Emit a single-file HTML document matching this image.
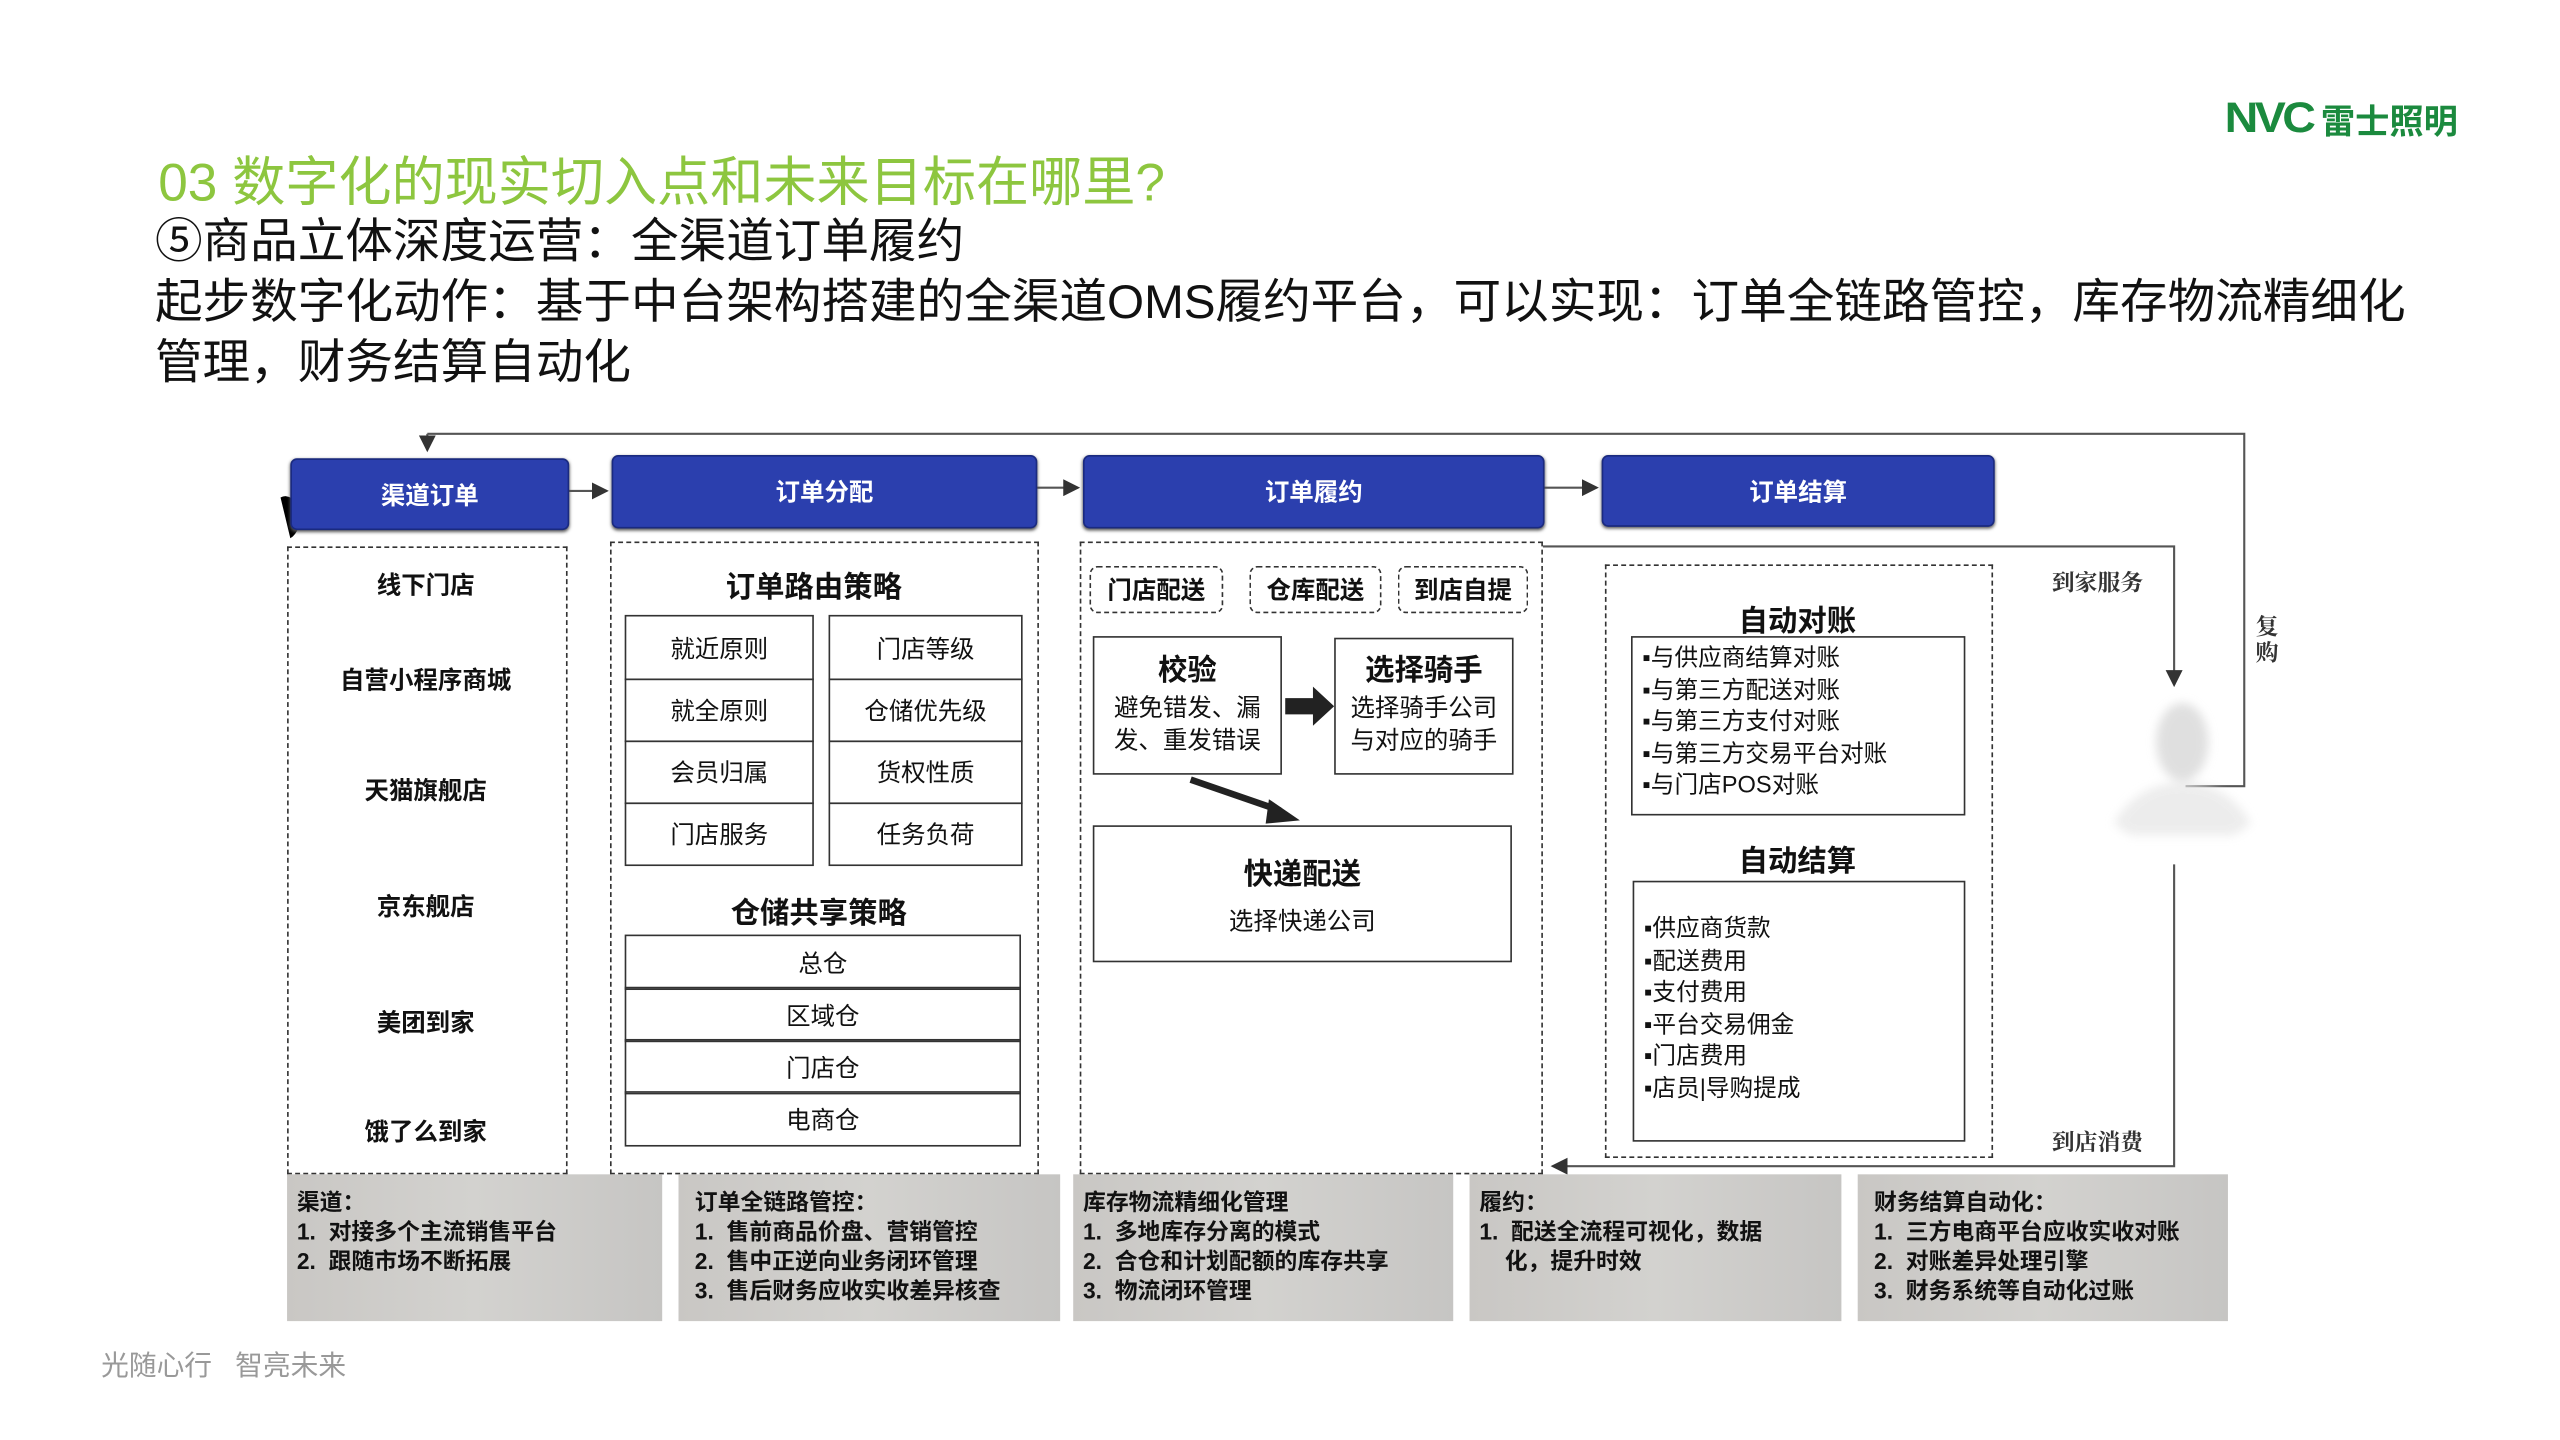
<!DOCTYPE html>
<html><head><meta charset="utf-8"><style>
html,body{margin:0;padding:0;background:#fff;width:2560px;height:1440px;overflow:hidden}
#s{position:absolute;left:0;top:0;width:1570px;height:883px;transform:scale(1.631);transform-origin:0 0;font-family:"Liberation Sans","Noto Sans CJK SC",sans-serif;color:#111}
.a{position:absolute}
.hd{position:absolute;background:#2b3fae;border:1px solid #1a2a80;border-radius:4px;color:#fff;font-weight:bold;font-size:15px;display:flex;align-items:center;justify-content:center;box-shadow:0 1px 2px #555}
.dash{position:absolute;border:1.5px dashed #333}
.box{position:absolute;border:1.5px solid #333;display:flex;align-items:center;justify-content:center;font-size:15px;box-sizing:border-box}
.c{position:absolute;text-align:center;font-weight:bold}
.gb{position:absolute;background:linear-gradient(90deg,#c9c7c4,#d3d2cf 50%,#c6c5c3);top:720px;height:90px;font-size:14px;font-weight:bold;line-height:18px;padding:8px 6px;box-sizing:border-box}
ul{margin:0;padding:0;list-style:none}
</style></head><body><div id="s">
<div class="a" style="left:1364px;top:57px;font-size:26px;font-weight:bold;color:#1b8a3e;letter-spacing:-2px;transform:scaleX(1.1);transform-origin:0 0">NVC</div>
<div class="a" style="left:1423px;top:59px;font-size:21px;font-weight:bold;color:#1b8a3e">雷士照明</div>
<div class="a" style="left:97px;top:86px;font-size:32.6px;color:#8dc63f">03 数字化的现实切入点和未来目标在哪里?</div>
<div class="a" style="left:95px;top:131px;font-size:29.2px;line-height:37px;color:#111;white-space:nowrap">⑤商品立体深度运营：全渠道订单履约<br>起步数字化动作：基于中台架构搭建的全渠道OMS履约平台，可以实现：订单全链路管控，库存物流精细化<br>管理，财务结算自动化</div>

<svg class="a" style="left:0;top:0" width="1570" height="883">
<defs><marker id="m" markerWidth="8" markerHeight="8" refX="7" refY="4" orient="auto"><path d="M0,0L8,4L0,8z" fill="#333"/></marker>
<filter id="bl"><feGaussianBlur stdDeviation="3"/></filter></defs>
<g stroke="#555" stroke-width="1.3" fill="none">
<path d="M262,266H1376V482H1340"/>
<path d="M262,266V276" marker-end="url(#m)"/>
<path d="M348,301H372" marker-end="url(#m)"/>
<path d="M635,299H661" marker-end="url(#m)"/>
<path d="M946,299H979" marker-end="url(#m)"/>
<path d="M946,335H1333V420" marker-end="url(#m)"/>
<path d="M1333,530V715H952" marker-end="url(#m)"/>
</g>
<path d="M788,428H805V421L818,433L805,445V438H788z" fill="#222"/>
<path d="M730,478L785,497" stroke="#222" stroke-width="4"/>
<path d="M778,490L797,503L776,505z" fill="#222"/>
<path d="M172,305A8,12 0 0 1 178,330z" fill="#000"/>
<g filter="url(#bl)" opacity="0.8">
<ellipse cx="1338" cy="455" rx="16" ry="24" fill="#d8d8d8"/>
<path d="M1296,505Q1310,480 1338,480Q1366,480 1380,505L1370,512H1306z" fill="#e8e8e8"/>
</g>
</svg>

<div class="hd" style="left:178px;top:281px;width:169px;height:42px">渠道订单</div>
<div class="hd" style="left:375px;top:279px;width:259px;height:43px">订单分配</div>
<div class="hd" style="left:664px;top:279px;width:281px;height:43px">订单履约</div>
<div class="hd" style="left:982px;top:279px;width:239px;height:42px">订单结算</div>

<div class="dash" style="left:176px;top:335px;width:170px;height:383px"></div>
<div class="c" style="left:176px;width:170px;top:348px;font-size:15px">线下门店</div>
<div class="c" style="left:176px;width:170px;top:406px;font-size:15px">自营小程序商城</div>
<div class="c" style="left:176px;width:170px;top:474px;font-size:15px">天猫旗舰店</div>
<div class="c" style="left:176px;width:170px;top:545px;font-size:15px">京东舰店</div>
<div class="c" style="left:176px;width:170px;top:616px;font-size:15px">美团到家</div>
<div class="c" style="left:176px;width:170px;top:683px;font-size:15px">饿了么到家</div>

<div class="dash" style="left:374px;top:332px;width:261px;height:386px"></div>
<div class="c" style="left:374px;width:250px;top:346px;font-size:18px">订单路由策略</div>
<div class="box" style="left:383px;top:377px;width:116px;height:40px">就近原则</div>
<div class="box" style="left:383px;top:416px;width:116px;height:39px">就全原则</div>
<div class="box" style="left:383px;top:454px;width:116px;height:39px">会员归属</div>
<div class="box" style="left:383px;top:492px;width:116px;height:39px">门店服务</div>
<div class="box" style="left:508px;top:377px;width:119px;height:40px">门店等级</div>
<div class="box" style="left:508px;top:416px;width:119px;height:39px">仓储优先级</div>
<div class="box" style="left:508px;top:454px;width:119px;height:39px">货权性质</div>
<div class="box" style="left:508px;top:492px;width:119px;height:39px">任务负荷</div>
<div class="c" style="left:374px;width:256px;top:546px;font-size:18px">仓储共享策略</div>
<div class="box" style="left:383px;top:573px;width:243px;height:34px">总仓</div>
<div class="box" style="left:383px;top:605px;width:243px;height:34px">区域仓</div>
<div class="box" style="left:383px;top:637px;width:243px;height:34px">门店仓</div>
<div class="box" style="left:383px;top:669px;width:243px;height:34px">电商仓</div>

<div class="dash" style="left:662px;top:332px;width:282px;height:386px"></div>
<div class="box" style="left:668px;top:347px;width:82px;height:29px;border-style:dashed;border-radius:5px;font-weight:bold">门店配送</div>
<div class="box" style="left:766px;top:347px;width:81px;height:29px;border-style:dashed;border-radius:5px;font-weight:bold">仓库配送</div>
<div class="box" style="left:857px;top:347px;width:80px;height:29px;border-style:dashed;border-radius:5px;font-weight:bold">到店自提</div>
<div class="box" style="left:670px;top:390px;width:116px;height:85px;flex-direction:column;font-size:15px;line-height:20px"><b style="font-size:18px;margin-bottom:4px">校验</b>避免错发、漏<br>发、重发错误</div>
<div class="box" style="left:818px;top:391px;width:110px;height:84px;flex-direction:column;font-size:15px;line-height:20px"><b style="font-size:18px;margin-bottom:4px">选择骑手</b>选择骑手公司<br>与对应的骑手</div>
<div class="box" style="left:670px;top:506px;width:257px;height:84px;flex-direction:column;font-size:15px"><b style="font-size:18px;margin-bottom:6px">快递配送</b>选择快递公司</div>

<div class="dash" style="left:984px;top:346px;width:236px;height:362px"></div>
<div class="c" style="left:984px;width:236px;top:367px;font-size:18px">自动对账</div>
<div class="box" style="left:1000px;top:390px;width:205px;height:110px;display:block;padding:4px 6px;font-size:14.5px;line-height:19.5px"><ul><li>▪与供应商结算对账</li><li>▪与第三方配送对账</li><li>▪与第三方支付对账</li><li>▪与第三方交易平台对账</li><li>▪与门店POS对账</li></ul></div>
<div class="c" style="left:984px;width:236px;top:514px;font-size:18px">自动结算</div>
<div class="box" style="left:1001px;top:540px;width:204px;height:160px;display:block;padding:20px 6px;font-size:14.5px;line-height:19.6px"><ul><li>▪供应商货款</li><li>▪配送费用</li><li>▪支付费用</li><li>▪平台交易佣金</li><li>▪门店费用</li><li>▪店员|导购提成</li></ul></div>

<div class="a" style="left:1258px;top:347px;font-size:14px;font-family:'Liberation Serif','Noto Serif CJK SC',serif;font-weight:bold;color:#333">到家服务</div>
<div class="a" style="left:1258px;top:690px;font-size:14px;font-family:'Liberation Serif','Noto Serif CJK SC',serif;font-weight:bold;color:#333">到店消费</div>
<div class="a" style="left:1383px;top:378px;font-size:14px;line-height:16px;width:15px;font-family:'Liberation Serif','Noto Serif CJK SC',serif;font-weight:bold;color:#333">复购</div>

<div class="gb" style="left:176px;width:230px">渠道：<br>1.&nbsp; 对接多个主流销售平台<br>2.&nbsp; 跟随市场不断拓展</div>
<div class="gb" style="left:416px;width:234px;padding-left:10px">订单全链路管控：<br>1.&nbsp; 售前商品价盘、营销管控<br>2.&nbsp; 售中正逆向业务闭环管理<br>3.&nbsp; 售后财务应收实收差异核查</div>
<div class="gb" style="left:658px;width:233px">库存物流精细化管理<br>1.&nbsp; 多地库存分离的模式<br>2.&nbsp; 合仓和计划配额的库存共享<br>3.&nbsp; 物流闭环管理</div>
<div class="gb" style="left:901px;width:228px">履约：<br>1.&nbsp; 配送全流程可视化，数据<br>&nbsp;&nbsp;&nbsp;&nbsp;化，提升时效</div>
<div class="gb" style="left:1139px;width:227px;padding-left:10px">财务结算自动化：<br>1.&nbsp; 三方电商平台应收实收对账<br>2.&nbsp; 对账差异处理引擎<br>3.&nbsp; 财务系统等自动化过账</div>

<div class="a" style="left:62px;top:823px;font-size:17px;color:#999">光随心行&nbsp;&nbsp;&nbsp;智亮未来</div>
</div></body></html>
